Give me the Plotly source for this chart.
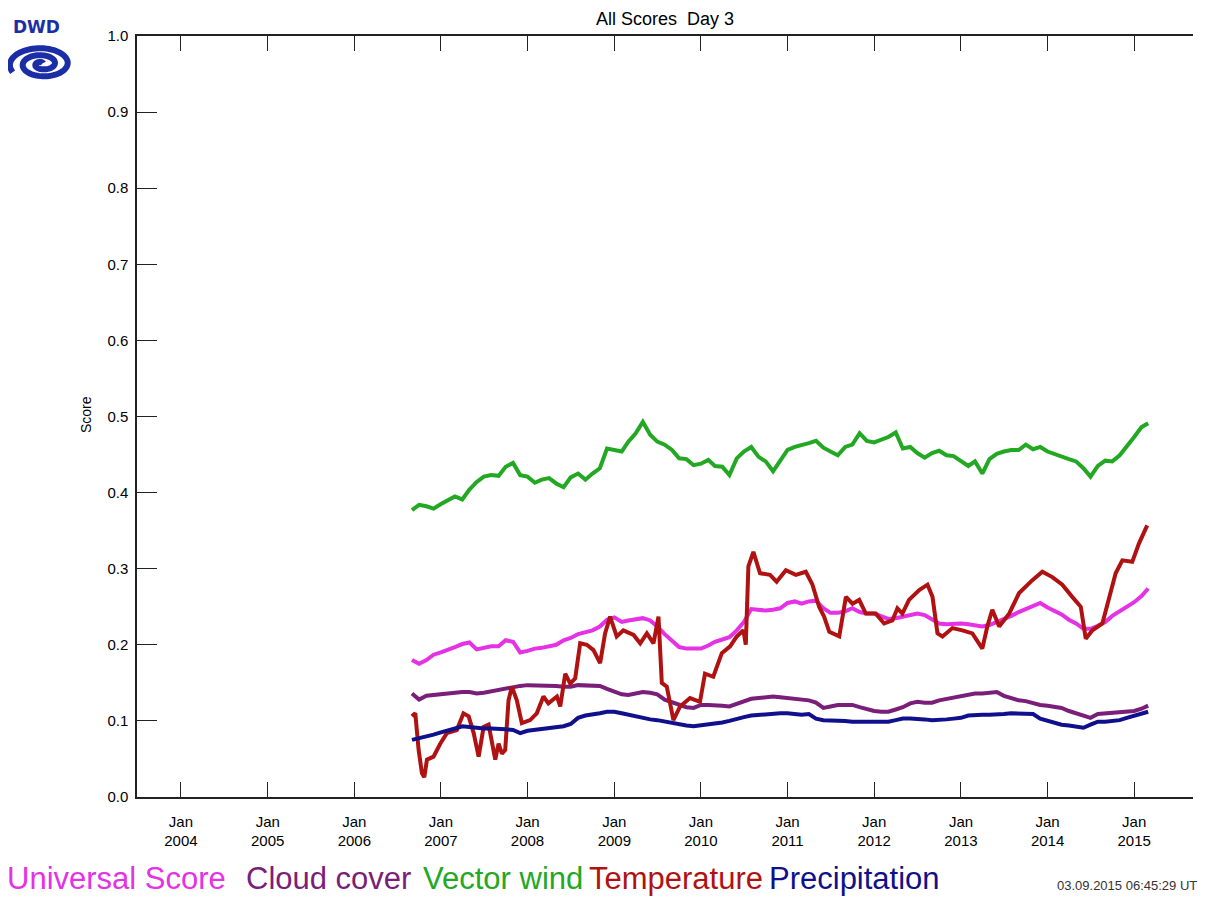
import numpy as np
import plotly.graph_objects as go

# monthly sample dates for the smoother scores
months = [
    "2006-09", "2006-10", "2006-11", "2006-12",
    "2007-01", "2007-02", "2007-03", "2007-04", "2007-05", "2007-06", "2007-07", "2007-08", "2007-09", "2007-10", "2007-11", "2007-12",
    "2008-01", "2008-02", "2008-03", "2008-04", "2008-05", "2008-06", "2008-07", "2008-08", "2008-09", "2008-10", "2008-11", "2008-12",
    "2009-01", "2009-02", "2009-03", "2009-04", "2009-05", "2009-06", "2009-07", "2009-08", "2009-09", "2009-10", "2009-11", "2009-12",
    "2010-01", "2010-02", "2010-03", "2010-04", "2010-05", "2010-06", "2010-07", "2010-08", "2010-09", "2010-10", "2010-11", "2010-12",
    "2011-01", "2011-02", "2011-03", "2011-04", "2011-05", "2011-06", "2011-07", "2011-08", "2011-09", "2011-10", "2011-11", "2011-12",
    "2012-01", "2012-02", "2012-03", "2012-04", "2012-05", "2012-06", "2012-07", "2012-08", "2012-09", "2012-10", "2012-11", "2012-12",
    "2013-01", "2013-02", "2013-03", "2013-04", "2013-05", "2013-06", "2013-07", "2013-08", "2013-09", "2013-10", "2013-11", "2013-12",
    "2014-01", "2014-02", "2014-03", "2014-04", "2014-05", "2014-06", "2014-07", "2014-08", "2014-09", "2014-10", "2014-11", "2014-12",
    "2015-01", "2015-02", "2015-03",
]

universal = [
    0.180, 0.175, 0.180, 0.187,
    0.190, 0.193, 0.197, 0.201, 0.203, 0.194, 0.196, 0.198, 0.198, 0.206, 0.204, 0.190,
    0.192, 0.195, 0.196, 0.198, 0.200, 0.206, 0.209, 0.214, 0.216, 0.219, 0.224, 0.233,
    0.236, 0.230, 0.232, 0.233, 0.235, 0.232, 0.224, 0.214, 0.205, 0.197, 0.195, 0.195,
    0.195, 0.199, 0.204, 0.207, 0.210, 0.219, 0.230, 0.247, 0.246, 0.245, 0.246, 0.248,
    0.255, 0.257, 0.254, 0.257, 0.258, 0.248, 0.242, 0.242, 0.244, 0.248, 0.243, 0.241,
    0.241, 0.237, 0.234, 0.235, 0.237, 0.239, 0.241, 0.239, 0.233, 0.228, 0.227, 0.228,
    0.228, 0.227, 0.226, 0.224, 0.226, 0.230, 0.233, 0.238, 0.243, 0.247, 0.250, 0.255,
    0.249, 0.244, 0.240, 0.233, 0.228, 0.221, 0.221, 0.225, 0.230, 0.238, 0.244, 0.249,
    0.256, 0.264, 0.274,
]

cloud = [
    0.136, 0.128, 0.133, 0.134,
    0.136, 0.137, 0.137, 0.138, 0.138, 0.136, 0.137, 0.139, 0.141, 0.143, 0.145, 0.146,
    0.147, 0.147, 0.146, 0.147, 0.146, 0.145, 0.145, 0.147, 0.147, 0.147, 0.146, 0.142,
    0.138, 0.135, 0.134, 0.136, 0.138, 0.137, 0.135, 0.128, 0.125, 0.122, 0.118, 0.117,
    0.121, 0.121, 0.121, 0.120, 0.119, 0.122, 0.125, 0.129, 0.130, 0.131, 0.132, 0.131,
    0.130, 0.129, 0.128, 0.127, 0.124, 0.117, 0.119, 0.121, 0.121, 0.121, 0.118, 0.115,
    0.113, 0.112, 0.112, 0.115, 0.118, 0.123, 0.125, 0.124, 0.124, 0.127, 0.129, 0.131,
    0.133, 0.135, 0.136, 0.136, 0.137, 0.138, 0.133, 0.130, 0.127, 0.126, 0.123, 0.121,
    0.120, 0.119, 0.117, 0.113, 0.110, 0.106, 0.104, 0.109, 0.110, 0.111, 0.112, 0.112,
    0.113, 0.116, 0.120,
]

wind = [
    0.377, 0.384, 0.382, 0.379,
    0.385, 0.390, 0.395, 0.391, 0.404, 0.414, 0.421, 0.423, 0.422, 0.434, 0.439, 0.423,
    0.421, 0.413, 0.417, 0.419, 0.412, 0.407, 0.420, 0.425, 0.417, 0.425, 0.432, 0.458,
    0.456, 0.454, 0.467, 0.478, 0.493, 0.476, 0.467, 0.463, 0.456, 0.445, 0.444, 0.436,
    0.438, 0.443, 0.435, 0.434, 0.423, 0.445, 0.454, 0.460, 0.447, 0.441, 0.428, 0.441,
    0.456, 0.460, 0.463, 0.465, 0.468, 0.459, 0.454, 0.449, 0.460, 0.463, 0.478, 0.468,
    0.466, 0.470, 0.473, 0.479, 0.458, 0.460, 0.452, 0.446, 0.452, 0.455, 0.449, 0.448,
    0.441, 0.435, 0.441, 0.425, 0.444, 0.451, 0.454, 0.456, 0.456, 0.463, 0.457, 0.460,
    0.454, 0.451, 0.447, 0.444, 0.441, 0.432, 0.421, 0.435, 0.442, 0.441, 0.449, 0.460,
    0.473, 0.486, 0.491,
]

precip = [
    0.075, 0.077, 0.079, 0.082,
    0.085, 0.087, 0.090, 0.093, 0.092, 0.090, 0.090, 0.090, 0.090, 0.089, 0.088, 0.084,
    0.087, 0.088, 0.089, 0.090, 0.091, 0.093, 0.096, 0.104, 0.107, 0.108, 0.110, 0.112,
    0.112, 0.110, 0.108, 0.106, 0.103, 0.102, 0.101, 0.099, 0.097, 0.096, 0.094, 0.093,
    0.094, 0.095, 0.096, 0.098, 0.100, 0.103, 0.105, 0.107, 0.108, 0.108, 0.109, 0.110,
    0.110, 0.109, 0.108, 0.109, 0.103, 0.101, 0.101, 0.100, 0.100, 0.099, 0.099, 0.099,
    0.099, 0.099, 0.099, 0.101, 0.103, 0.103, 0.103, 0.102, 0.101, 0.101, 0.102, 0.103,
    0.104, 0.107, 0.108, 0.108, 0.108, 0.108, 0.109, 0.110, 0.110, 0.110, 0.109, 0.103,
    0.100, 0.097, 0.095, 0.094, 0.093, 0.091, 0.095, 0.099, 0.099, 0.100, 0.101, 0.104,
    0.107, 0.109, 0.112,
]

# temperature jumps a lot, so it gets its own finer dates
temp_dates = [
    "2006-09-01", "2006-09-15", "2006-09-29", "2006-10-13", "2006-10-23", "2006-11-03",
    "2006-12-01", "2006-12-29", "2007-01-26", "2007-03-09", "2007-04-06", "2007-04-28",
    "2007-05-19", "2007-06-09", "2007-06-30", "2007-07-21", "2007-08-18", "2007-09-01",
    "2007-09-15", "2007-09-29", "2007-10-13", "2007-10-27", "2007-11-17", "2007-12-08",
    "2008-01-12", "2008-02-09", "2008-03-08", "2008-03-29", "2008-05-04", "2008-05-18",
    "2008-06-08", "2008-06-29", "2008-07-20", "2008-08-10", "2008-09-07", "2008-10-05",
    "2008-11-02", "2008-11-23", "2008-12-14", "2009-01-11", "2009-02-08", "2009-03-23",
    "2009-04-20", "2009-05-18", "2009-06-15", "2009-07-06", "2009-07-20", "2009-08-10",
    "2009-09-07", "2009-10-05", "2009-11-16", "2009-12-28", "2010-01-18", "2010-02-22",
    "2010-03-30", "2010-05-04", "2010-06-01", "2010-06-29", "2010-07-09", "2010-07-20",
    "2010-08-10", "2010-09-07", "2010-10-19", "2010-11-16", "2010-12-25", "2011-02-05",
    "2011-03-19", "2011-04-16", "2011-05-14", "2011-06-04", "2011-06-26", "2011-08-07",
    "2011-09-04", "2011-10-02", "2011-10-30", "2011-11-27", "2012-01-08", "2012-02-12",
    "2012-03-18", "2012-04-08", "2012-04-29", "2012-05-27", "2012-07-09", "2012-08-13",
    "2012-09-03", "2012-09-24", "2012-10-15", "2012-11-26", "2013-01-07", "2013-02-18",
    "2013-04-01", "2013-04-22", "2013-05-13", "2013-06-11", "2013-07-23", "2013-09-03",
    "2013-10-29", "2013-12-10", "2014-01-21", "2014-03-04", "2014-04-15", "2014-05-21",
    "2014-06-11", "2014-07-09", "2014-08-20", "2014-09-17", "2014-10-15", "2014-11-12",
    "2014-12-24", "2015-01-21", "2015-02-25",
]
temperature = [
    0.106, 0.110, 0.062, 0.031, 0.026, 0.049,
    0.053, 0.070, 0.084, 0.088, 0.110, 0.106,
    0.084, 0.053, 0.092, 0.095, 0.049, 0.070,
    0.057, 0.062, 0.127, 0.145, 0.127, 0.097,
    0.101, 0.110, 0.132, 0.123, 0.132, 0.119,
    0.162, 0.149, 0.156, 0.202, 0.200, 0.193,
    0.176, 0.215, 0.237, 0.211, 0.219, 0.213,
    0.202, 0.215, 0.202, 0.237, 0.150, 0.145,
    0.101, 0.119, 0.130, 0.125, 0.162, 0.158,
    0.189, 0.198, 0.211, 0.219, 0.200, 0.303,
    0.322, 0.294, 0.292, 0.283, 0.298, 0.292,
    0.296, 0.279, 0.250, 0.237, 0.217, 0.211,
    0.263, 0.254, 0.259, 0.241, 0.241, 0.228,
    0.232, 0.248, 0.241, 0.259, 0.272, 0.279,
    0.263, 0.215, 0.211, 0.222, 0.219, 0.215,
    0.195, 0.224, 0.246, 0.224, 0.241, 0.268,
    0.285, 0.296, 0.289, 0.279, 0.263, 0.250,
    0.208, 0.219, 0.228, 0.263, 0.294, 0.311,
    0.309, 0.333, 0.357,
]

years = list(range(2004, 2016))
tick_dates = ["%d-01-01" % y for y in years]
tick_text = ["Jan<br>%d" % y for y in years]

names = ["Universal Score", "Cloud cover", "Vector wind", "Temperature", "Precipitation"]
colors = ["#e432e4", "#7a1e7a", "#22a822", "#b01212", "#10108c"]

FONT = "Liberation Sans, Arial, sans-serif"

# the html body has an 8px margin, so the figure starts at page pixel (8, 8)
# plot area on the page: x 137..1193, y 36..797
def px_x(X):
    return (X - 137) / 1056.0

def px_y(Y):
    return (797 - Y) / 761.0


fig = go.Figure()
series = [(months, universal), (months, cloud), (months, wind), (temp_dates, temperature), (months, precip)]
for (x, y), name, col in zip(series, names, colors):
    fig.add_trace(go.Scatter(x=x, y=y, mode="lines", name=name,
                             line=dict(color=col, width=4), showlegend=False))

fig.update_layout(
    width=1213, height=892,
    margin=dict(l=129, r=28, t=28, b=103, pad=0),
    paper_bgcolor="white", plot_bgcolor="white",
    font=dict(family=FONT, color="black"),
    showlegend=False,
)
fig.update_xaxes(
    type="date", range=["2003-06-30", "2015-09-06"],
    tickmode="array", tickvals=tick_dates, ticktext=tick_text,
    ticks="inside", ticklen=15, tickwidth=1.2, tickcolor="#222",
    showline=True, linecolor="#222", linewidth=1.5, mirror="ticks",
    showgrid=False, zeroline=False,
    tickfont=dict(size=15, color="black"), ticklabelstandoff=10,
)
fig.update_yaxes(
    range=[0, 1], tickmode="linear", tick0=0, dtick=0.1, tickformat=".1f",
    ticks="inside", ticklen=20, tickwidth=1.2, tickcolor="#222",
    showline=True, linecolor="#222", linewidth=1.5, mirror=False,
    showgrid=False, zeroline=False,
    tickfont=dict(size=15, color="black"), ticklabelstandoff=4,
)

ann = []
ann.append(dict(text="All Scores\u00a0\u00a0Day 3", x=px_x(665), y=px_y(19),
                xanchor="center", yanchor="middle", font=dict(size=18)))
ann.append(dict(text="Score", x=px_x(86), y=px_y(415), textangle=-90,
                xanchor="center", yanchor="middle", font=dict(size=14)))
# legend as coloured words under the axis
leg_x = [5, 244, 421, 587, 767]
for txt, col, lx in zip(names, colors, leg_x):
    ann.append(dict(text=txt, x=px_x(lx), y=px_y(878), xanchor="left", yanchor="middle",
                    font=dict(size=31, color=col)))
ann.append(dict(text="03.09.2015 06:45:29 UT", x=px_x(1055), y=px_y(885),
                xanchor="left", yanchor="middle", font=dict(size=13, color="#333")))
ann.append(dict(text="<b>DWD</b>", x=px_x(36), y=px_y(27), xanchor="center", yanchor="middle",
                font=dict(size=17, color="#1c2ea6", family="DejaVu Sans, sans-serif")))
for a in ann:
    a.update(xref="paper", yref="paper", showarrow=False)
fig.update_layout(annotations=ann)

# DWD spiral logo
th = np.linspace(1.0, 5.15 * np.pi, 160)
r = th / th.max()
sx = px_x(42 + 33 * r * np.cos(th))
sy = px_y(64 - 18 * r * np.sin(th))
path = "M " + " L ".join("%.5f,%.5f" % (a, b) for a, b in zip(sx, sy))
fig.add_shape(type="path", path=path, xref="paper", yref="paper",
              line=dict(color="#1c2ea6", width=6))

fig.write_html("out.html")
